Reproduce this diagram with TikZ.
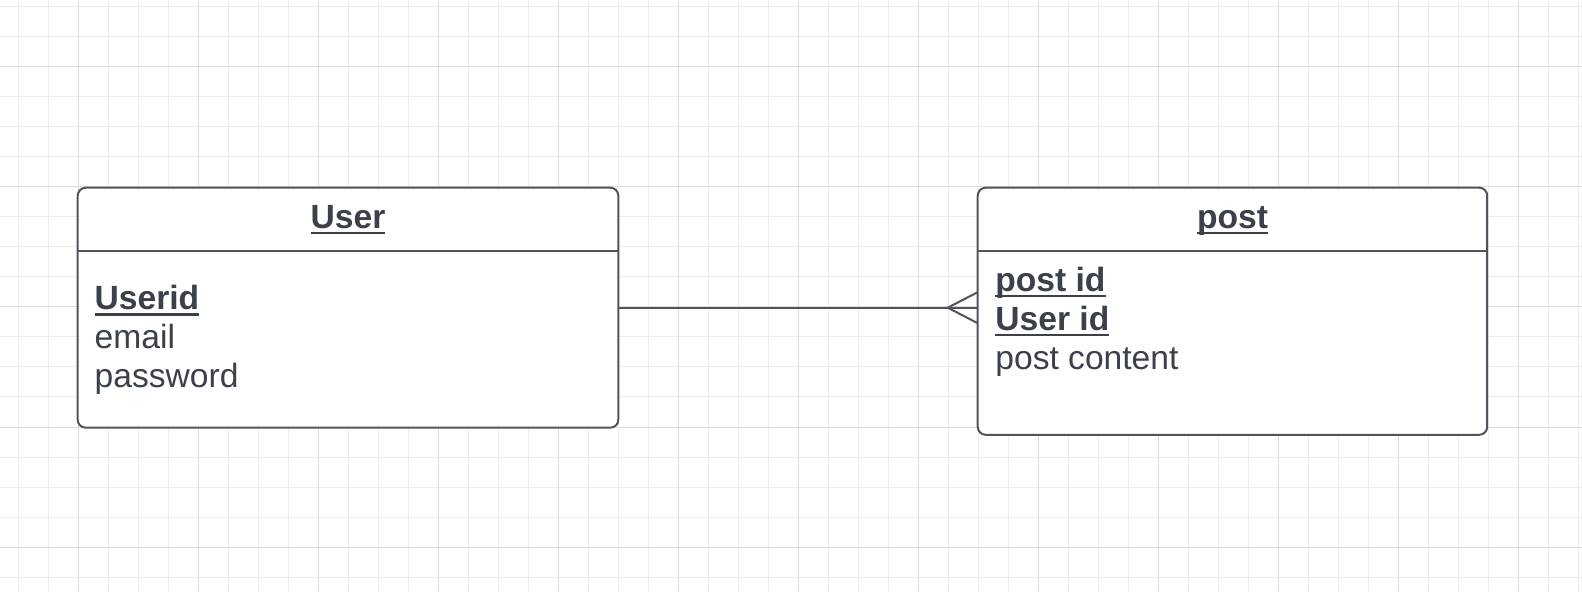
\documentclass[tikz,border=0pt]{standalone}
\usepackage{fontspec}
\setmainfont{Liberation Sans}
\usepackage{tikz}
\usetikzlibrary{positioning}

\definecolor{inkcol}{HTML}{3A414A}
\definecolor{linecol}{HTML}{50555C}
\definecolor{minorcol}{HTML}{EDEDED}
\definecolor{majorcol}{HTML}{DDDDDD}

% underline that runs through descenders, like the drawing tool does
\newcommand{\keyul}[1]{\setbox0\hbox{#1}\rlap{\rule[-3pt]{\wd0}{1.3pt}}\box0}

\tikzset{
  entity/.style={draw=linecol, line width=1pt, rounded corners=4pt, inner sep=0pt, outer sep=0pt},
  rule/.style={draw=linecol, line width=1pt},
  head/.style={anchor=base, inner sep=0pt, text=inkcol, font=\fontsize{16.8}{19.5}\selectfont\bfseries},
  row/.style={anchor=base west, inner sep=0pt, text=inkcol, font=\fontsize{16.8}{19.5}\selectfont},
  keyrow/.style={row, font=\fontsize{16.8}{19.5}\selectfont\bfseries}
}

\begin{document}
\begin{tikzpicture}[x=0.5pt, y=-0.5pt]

        \useasboundingbox (0,0) rectangle (1582,592);

        % background grid
        \foreach \x in {18,48,...,1578} \draw[minorcol, line width=0.5pt] (\x,0) -- (\x,592);
        \foreach \y in {7,37,...,577} \draw[minorcol, line width=0.5pt] (0,\y) -- (1582,\y);
        \foreach \x in {78,198,...,1518} \draw[majorcol, line width=0.5pt] (\x,0) -- (\x,592);
        \foreach \y in {67,187,...,547} \draw[majorcol, line width=0.5pt] (0,\y) -- (1582,\y);

        % entity boxes
        \node[entity, fill=white, minimum width=270.3pt, minimum height=120pt] (user) at (348,307.7) {};
        \node[entity, fill=white, minimum width=254.75pt, minimum height=123.55pt] (post) at (1232.45,311.25) {};

        % header rules
        \draw[rule] (user.west |- 0,251.3) -- (user.east |- 0,251.3);
        \draw[rule] (post.west |- 0,251.3) -- (post.east |- 0,251.3);

        % titles
        \node[head] (usertitle) at (348,228.5) {\keyul{User}};
        \node[head] (posttitle) at (1232.45,228.5) {\keyul{post}};

        % User attributes
        \node[keyrow] (userid) at (94.3,310) {\keyul{Userid}};
        \node[row] (useremail) at (94.3,349) {email};
        \node[row] (userpass) at (94.3,388) {password};

        % post attributes
        \node[keyrow] (postid) at (995,291.5) {\keyul{post id}};
        \node[keyrow] (postuser) at (995,330.5) {\keyul{User id}};
        \node[row] (postcontent) at (995,369.5) {post content};

        % one-to-many link with crow's foot
        \coordinate (foottip) at ([xshift=-15pt]user.east -| post.west);
        \draw[rule] (user.east) -- (user.east -| post.west);
        \draw[rule] ([yshift=7.75pt]foottip -| post.west) -- (foottip) -- ([yshift=-7.75pt]foottip -| post.west);

    \end{tikzpicture}
\end{document}
